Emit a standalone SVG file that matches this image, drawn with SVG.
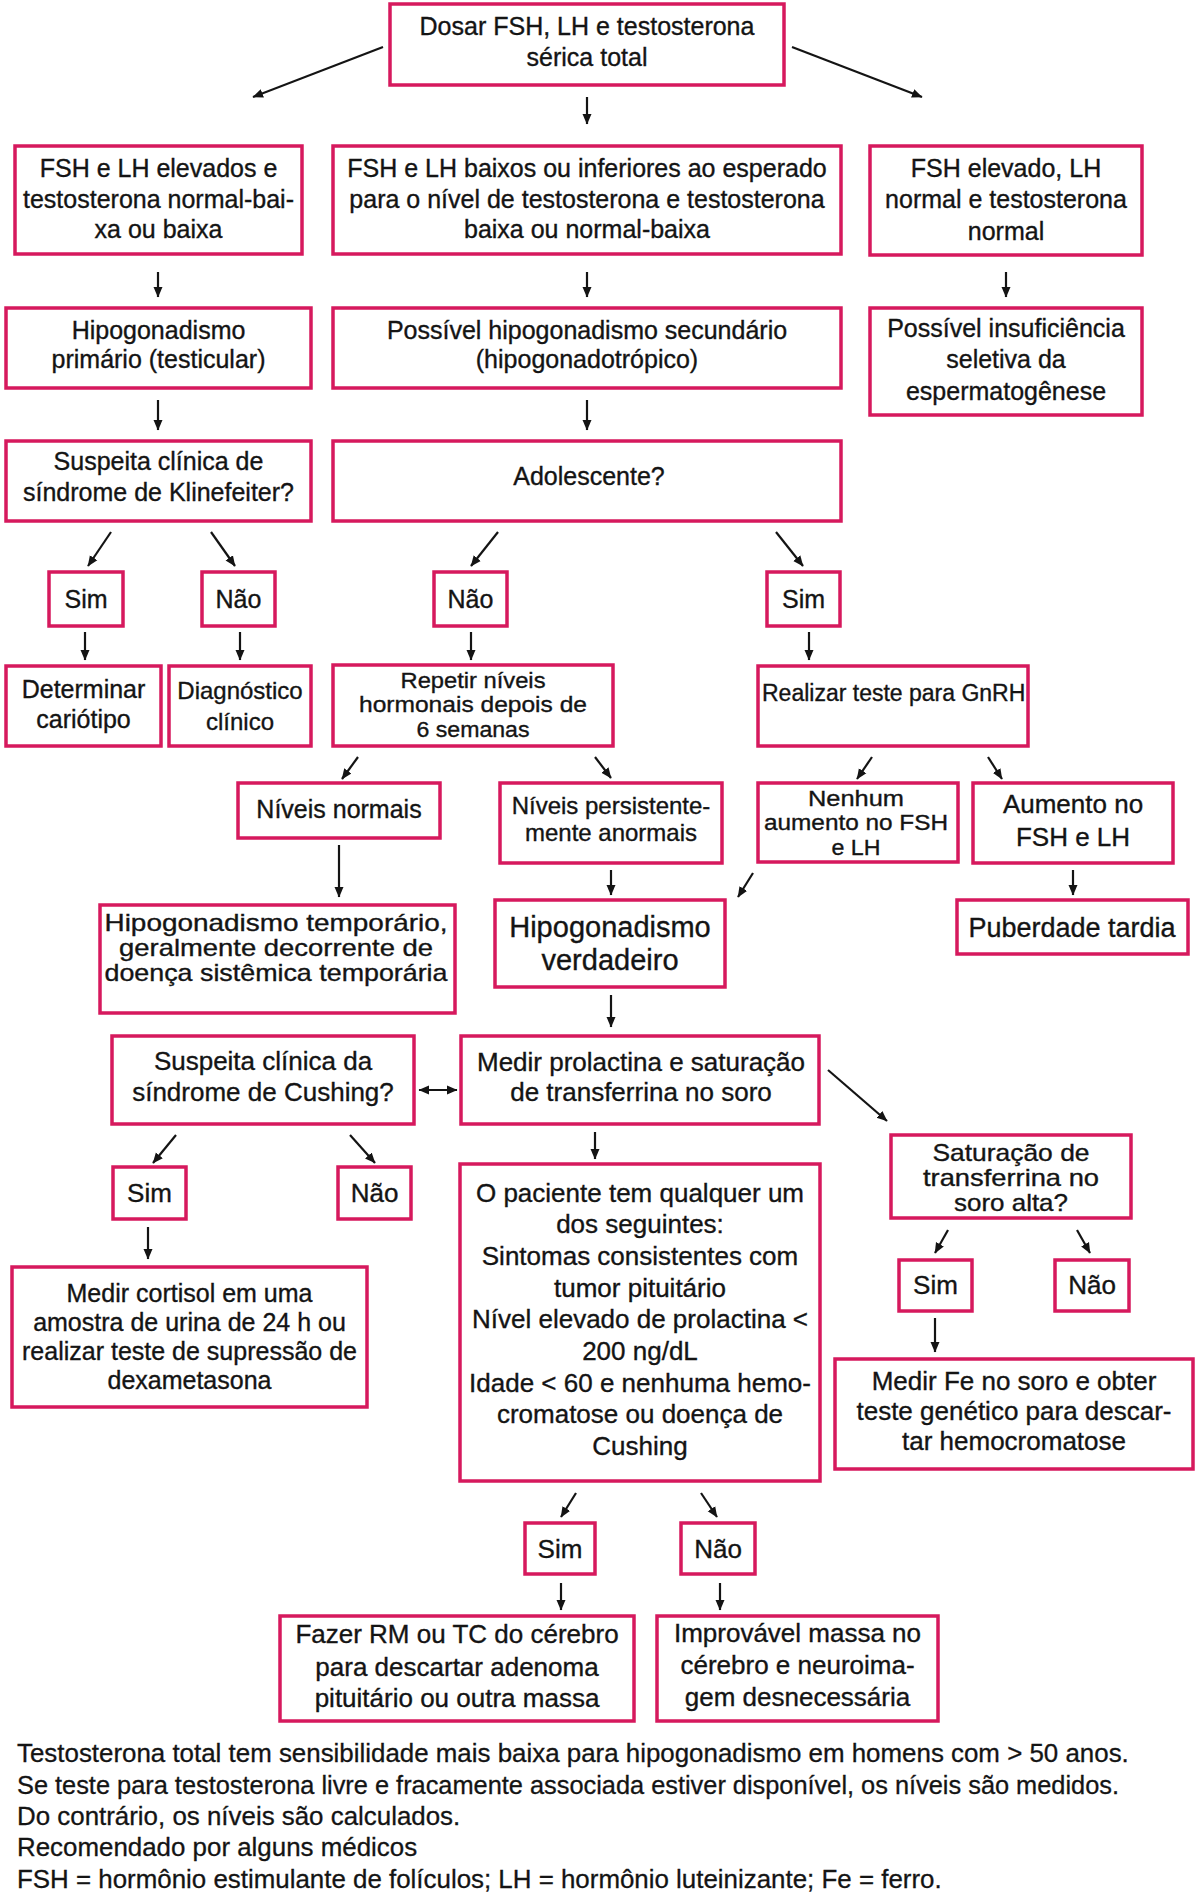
<svg xmlns="http://www.w3.org/2000/svg" width="1200" height="1896" viewBox="0 0 1200 1896">
<style>
.box{fill:#fff;stroke:#d6195d;stroke-width:3.5}
.t{font-family:"Liberation Sans",Arial,sans-serif;fill:#141414;stroke:#141414;stroke-width:0.35;text-anchor:middle}
.s22{font-size:22px}.s23{font-size:23px}.s24{font-size:24px}.s25{font-size:25px}.s26{font-size:26px}.s27{font-size:27px}.s29{font-size:29px}
.c{stroke:#141414;stroke-width:2.2;fill:none;marker-end:url(#ah)}
.fn{font-family:"Liberation Sans",Arial,sans-serif;fill:#141414;stroke:#141414;stroke-width:0.3;font-size:25.9px}
</style>
<defs>
<marker id="ah" markerWidth="11" markerHeight="10" refX="10" refY="5" orient="auto-start-reverse" markerUnits="userSpaceOnUse">
<path d="M0,0.5 L10.5,5 L0,9.5 z" fill="#141414"/>
</marker>
</defs>
<rect width="1200" height="1896" fill="#fff"/>

<g id="n-dosar"><rect class="box" x="390" y="4" width="394" height="81"/>
<text class="t s25"><tspan x="587" y="35">Dosar FSH, LH e testosterona</tspan><tspan x="587" y="66">sérica total</tspan></text></g>

<g id="n-fshlh-elevados"><rect class="box" x="15" y="146" width="287" height="108"/>
<text class="t s25"><tspan x="158.5" y="177">FSH e LH elevados e</tspan><tspan x="158.5" y="208">testosterona normal-bai-</tspan><tspan x="158.5" y="238">xa ou baixa</tspan></text></g>

<g id="n-fshlh-baixos"><rect class="box" x="333" y="146" width="508" height="108"/>
<text class="t s25"><tspan x="587" y="177">FSH e LH baixos ou inferiores ao esperado</tspan><tspan x="587" y="208">para o nível de testosterona e testosterona</tspan><tspan x="587" y="238">baixa ou normal-baixa</tspan></text></g>

<g id="n-fsh-elevado"><rect class="box" x="870" y="146" width="272" height="109"/>
<text class="t s25"><tspan x="1006" y="177">FSH elevado, LH</tspan><tspan x="1006" y="208">normal e testosterona</tspan><tspan x="1006" y="240">normal</tspan></text></g>

<g id="n-primario"><rect class="box" x="6" y="308" width="305" height="80"/>
<text class="t s25"><tspan x="158.5" y="339">Hipogonadismo</tspan><tspan x="158.5" y="368">primário (testicular)</tspan></text></g>

<g id="n-secundario"><rect class="box" x="333" y="308" width="508" height="80"/>
<text class="t s25"><tspan x="587" y="339">Possível hipogonadismo secundário</tspan><tspan x="587" y="368">(hipogonadotrópico)</tspan></text></g>

<g id="n-seletiva"><rect class="box" x="870" y="308" width="272" height="107"/>
<text class="t s25"><tspan x="1006" y="337">Possível insuficiência</tspan><tspan x="1006" y="368">seletiva da</tspan><tspan x="1006" y="400">espermatogênese</tspan></text></g>

<g id="n-klinefeiter"><rect class="box" x="6" y="441" width="305" height="80"/>
<text class="t s25"><tspan x="158.5" y="470">Suspeita clínica de</tspan><tspan x="158.5" y="501">síndrome de Klinefeiter?</tspan></text></g>

<g id="n-adolescente"><rect class="box" x="333" y="441" width="508" height="80"/>
<text class="t s25" x="589" y="485">Adolescente?</text></g>

<g id="n-sim-k"><rect class="box" x="49" y="572" width="74" height="54"/><text class="t s25" x="86" y="608">Sim</text></g>
<g id="n-nao-k"><rect class="box" x="202" y="572" width="73" height="54"/><text class="t s25" x="238.5" y="608">Não</text></g>
<g id="n-nao-a"><rect class="box" x="434" y="572" width="73" height="54"/><text class="t s25" x="470.5" y="608">Não</text></g>
<g id="n-sim-a"><rect class="box" x="767" y="572" width="73" height="54"/><text class="t s25" x="803.5" y="608">Sim</text></g>

<g id="n-cariotipo"><rect class="box" x="6" y="666" width="155" height="80"/>
<text class="t s25"><tspan x="83.5" y="698">Determinar</tspan><tspan x="83.5" y="728">cariótipo</tspan></text></g>

<g id="n-diagnostico"><rect class="box" x="169" y="666" width="142" height="80"/>
<text class="t s24"><tspan x="240" y="699">Diagnóstico</tspan><tspan x="240" y="730">clínico</tspan></text></g>

<g id="n-repetir"><rect class="box" x="333" y="665" width="280" height="81"/>
<text class="t s22"><tspan x="473" y="688" textLength="145" lengthAdjust="spacingAndGlyphs">Repetir níveis</tspan><tspan x="473" y="712" textLength="228" lengthAdjust="spacingAndGlyphs">hormonais depois de</tspan><tspan x="473" y="737" textLength="113" lengthAdjust="spacingAndGlyphs">6 semanas</tspan></text></g>

<g id="n-gnrh"><rect class="box" x="758" y="666" width="270" height="80"/>
<text class="t s23" style="text-anchor:start" x="762" y="701">Realizar teste para GnRH</text></g>

<g id="n-normais"><rect class="box" x="238" y="783" width="202" height="55"/>
<text class="t s25" x="339" y="818">Níveis normais</text></g>

<g id="n-persistentes"><rect class="box" x="500" y="783" width="222" height="80"/>
<text class="t s24"><tspan x="611" y="814">Níveis persistente-</tspan><tspan x="611" y="841">mente anormais</tspan></text></g>

<g id="n-nenhum"><rect class="box" x="758" y="783" width="200" height="79"/>
<text class="t s22"><tspan x="856" y="806" textLength="96" lengthAdjust="spacingAndGlyphs">Nenhum</tspan><tspan x="856" y="830" textLength="184" lengthAdjust="spacingAndGlyphs">aumento no FSH</tspan><tspan x="856" y="855" textLength="49" lengthAdjust="spacingAndGlyphs">e LH</tspan></text></g>

<g id="n-aumento"><rect class="box" x="973" y="783" width="200" height="80"/>
<text class="t s26"><tspan x="1073" y="813">Aumento no</tspan><tspan x="1073" y="846">FSH e LH</tspan></text></g>

<g id="n-temporario"><rect class="box" x="100" y="905" width="355" height="108"/>
<text class="t s24"><tspan x="276" y="931" textLength="343" lengthAdjust="spacingAndGlyphs">Hipogonadismo temporário,</tspan><tspan x="276" y="956" textLength="314" lengthAdjust="spacingAndGlyphs">geralmente decorrente de</tspan><tspan x="276" y="981" textLength="343" lengthAdjust="spacingAndGlyphs">doença sistêmica temporária</tspan></text></g>

<g id="n-verdadeiro"><rect class="box" x="495" y="900" width="230" height="87"/>
<text class="t s29"><tspan x="610" y="937">Hipogonadismo</tspan><tspan x="610" y="970">verdadeiro</tspan></text></g>

<g id="n-puberdade"><rect class="box" x="957" y="900" width="231" height="54"/>
<text class="t s27" x="1072" y="937">Puberdade tardia</text></g>

<g id="n-cushing"><rect class="box" x="112" y="1036" width="302" height="88"/>
<text class="t s26"><tspan x="263" y="1070">Suspeita clínica da</tspan><tspan x="263" y="1101">síndrome de Cushing?</tspan></text></g>

<g id="n-prolactina"><rect class="box" x="461" y="1036" width="358" height="88"/>
<text class="t s26"><tspan x="641" y="1071">Medir prolactina e saturação</tspan><tspan x="641" y="1101">de transferrina no soro</tspan></text></g>

<g id="n-saturacao"><rect class="box" x="891" y="1135" width="240" height="83"/>
<text class="t s24"><tspan x="1011" y="1161" textLength="157" lengthAdjust="spacingAndGlyphs">Saturação de</tspan><tspan x="1011" y="1186" textLength="176" lengthAdjust="spacingAndGlyphs">transferrina no</tspan><tspan x="1011" y="1211" textLength="114" lengthAdjust="spacingAndGlyphs">soro alta?</tspan></text></g>

<g id="n-sim-c"><rect class="box" x="113" y="1167" width="73" height="52"/><text class="t s26" x="149.5" y="1202">Sim</text></g>
<g id="n-nao-c"><rect class="box" x="338" y="1167" width="73" height="52"/><text class="t s26" x="374.5" y="1202">Não</text></g>

<g id="n-paciente"><rect class="box" x="460" y="1164" width="360" height="317"/>
<text class="t s26"><tspan x="640" y="1202">O paciente tem qualquer um</tspan><tspan x="640" y="1233">dos seguintes:</tspan><tspan x="640" y="1265">Sintomas consistentes com</tspan><tspan x="640" y="1297">tumor pituitário</tspan><tspan x="640" y="1328">Nível elevado de prolactina &lt;</tspan><tspan x="640" y="1360">200 ng/dL</tspan><tspan x="640" y="1392">Idade &lt; 60 e nenhuma hemo-</tspan><tspan x="640" y="1423">cromatose ou doença de</tspan><tspan x="640" y="1455">Cushing</tspan></text></g>

<g id="n-sim-s"><rect class="box" x="899" y="1260" width="73" height="51"/><text class="t s26" x="935.5" y="1294">Sim</text></g>
<g id="n-nao-s"><rect class="box" x="1055" y="1260" width="74" height="51"/><text class="t s26" x="1092" y="1294">Não</text></g>

<g id="n-cortisol"><rect class="box" x="12" y="1267" width="355" height="140"/>
<text class="t s25"><tspan x="189.5" y="1302">Medir cortisol em uma</tspan><tspan x="189.5" y="1331">amostra de urina de 24 h ou</tspan><tspan x="189.5" y="1360">realizar teste de supressão de</tspan><tspan x="189.5" y="1389">dexametasona</tspan></text></g>

<g id="n-fe"><rect class="box" x="835" y="1359" width="358" height="110"/>
<text class="t s26"><tspan x="1014" y="1390">Medir Fe no soro e obter</tspan><tspan x="1014" y="1420">teste genético para descar-</tspan><tspan x="1014" y="1450">tar hemocromatose</tspan></text></g>

<g id="n-sim-p"><rect class="box" x="525" y="1523" width="70" height="51"/><text class="t s26" x="560" y="1558">Sim</text></g>
<g id="n-nao-p"><rect class="box" x="681" y="1523" width="74" height="51"/><text class="t s26" x="718" y="1558">Não</text></g>

<g id="n-rm"><rect class="box" x="280" y="1616" width="354" height="105"/>
<text class="t s26"><tspan x="457" y="1643">Fazer RM ou TC do cérebro</tspan><tspan x="457" y="1676">para descartar adenoma</tspan><tspan x="457" y="1707">pituitário ou outra massa</tspan></text></g>

<g id="n-improvavel"><rect class="box" x="657" y="1616" width="281" height="105"/>
<text class="t s26"><tspan x="797.5" y="1642">Improvável massa no</tspan><tspan x="797.5" y="1674">cérebro e neuroima-</tspan><tspan x="797.5" y="1706">gem desnecessária</tspan></text></g>

<g id="connectors">
<line class="c" x1="383" y1="47" x2="253" y2="97"/>
<line class="c" x1="587" y1="97" x2="587" y2="124"/>
<line class="c" x1="792" y1="47" x2="922" y2="97"/>
<line class="c" x1="158" y1="272" x2="158" y2="297"/>
<line class="c" x1="587" y1="272" x2="587" y2="297"/>
<line class="c" x1="1006" y1="272" x2="1006" y2="297"/>
<line class="c" x1="158" y1="400" x2="158" y2="430"/>
<line class="c" x1="587" y1="400" x2="587" y2="430"/>
<line class="c" x1="111" y1="532" x2="88" y2="566"/>
<line class="c" x1="211" y1="532" x2="235" y2="566"/>
<line class="c" x1="498" y1="532" x2="471" y2="566"/>
<line class="c" x1="776" y1="532" x2="803" y2="566"/>
<line class="c" x1="85" y1="632" x2="85" y2="660"/>
<line class="c" x1="240" y1="632" x2="240" y2="660"/>
<line class="c" x1="471" y1="632" x2="471" y2="660"/>
<line class="c" x1="809" y1="632" x2="809" y2="660"/>
<line class="c" x1="358" y1="757" x2="342" y2="779"/>
<line class="c" x1="595" y1="757" x2="611" y2="778"/>
<line class="c" x1="872" y1="757" x2="857" y2="779"/>
<line class="c" x1="988" y1="757" x2="1002" y2="779"/>
<line class="c" x1="339" y1="845" x2="339" y2="897"/>
<line class="c" x1="611" y1="870" x2="611" y2="895"/>
<line class="c" x1="753" y1="873" x2="738" y2="897"/>
<line class="c" x1="1073" y1="870" x2="1073" y2="895"/>
<line class="c" x1="611" y1="995" x2="611" y2="1027"/>
<line class="c" x1="419" y1="1090" x2="457" y2="1090" marker-start="url(#ah)"/>
<line class="c" x1="828" y1="1070" x2="887" y2="1121"/>
<line class="c" x1="595" y1="1132" x2="595" y2="1159"/>
<line class="c" x1="176" y1="1135" x2="153" y2="1163"/>
<line class="c" x1="350" y1="1135" x2="375" y2="1163"/>
<line class="c" x1="948" y1="1230" x2="935" y2="1253"/>
<line class="c" x1="1077" y1="1230" x2="1090" y2="1253"/>
<line class="c" x1="148" y1="1227" x2="148" y2="1259"/>
<line class="c" x1="935" y1="1318" x2="935" y2="1352"/>
<line class="c" x1="576" y1="1493" x2="561" y2="1517"/>
<line class="c" x1="701" y1="1493" x2="717" y2="1517"/>
<line class="c" x1="561" y1="1583" x2="561" y2="1610"/>
<line class="c" x1="720" y1="1583" x2="720" y2="1610"/>
</g>

<g id="footnotes">
<text class="fn" x="17" y="1762">Testosterona total tem sensibilidade mais baixa para hipogonadismo em homens com &gt; 50 anos.</text>
<text class="fn" x="17" y="1794" textLength="1102" lengthAdjust="spacingAndGlyphs">Se teste para testosterona livre e fracamente associada estiver disponível, os níveis são medidos.</text>
<text class="fn" x="17" y="1825">Do contrário, os níveis são calculados.</text>
<text class="fn" x="17" y="1856">Recomendado por alguns médicos</text>
<text class="fn" x="17" y="1888">FSH = hormônio estimulante de folículos; LH = hormônio luteinizante; Fe = ferro.</text>
</g>
</svg>
